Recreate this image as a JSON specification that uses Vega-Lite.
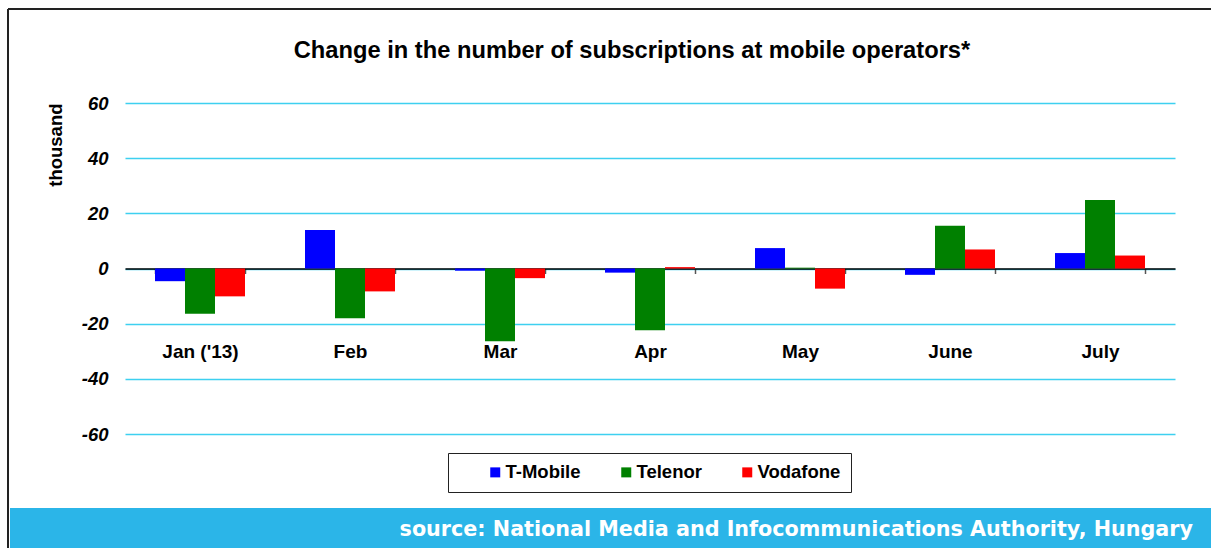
{
  "$schema": "https://vega.github.io/schema/vega-lite/v6.json",
  "width": 1050,
  "height": 331,
  "autosize": {"type": "none"},
  "padding": {"left": 125, "top": 103, "right": 36, "bottom": 114},
  "background": "white",
  "config": {"view": {"stroke": null}, "font": "Liberation Sans"},
  "title": {
    "text": "Change in the number of subscriptions at mobile operators*",
    "font": "Liberation Sans",
    "fontSize": 23.7,
    "fontWeight": "bold",
    "color": "black",
    "anchor": "middle",
    "frame": "group",
    "dx": -18,
    "offset": -55
  },
  "datasets": {
    "subs": [
      {"month": "Jan ('13)", "operator": "T-Mobile", "value": -4.6},
      {"month": "Jan ('13)", "operator": "Telenor", "value": -16.4},
      {"month": "Jan ('13)", "operator": "Vodafone", "value": -10.1},
      {"month": "Feb", "operator": "T-Mobile", "value": 14.0},
      {"month": "Feb", "operator": "Telenor", "value": -18.0},
      {"month": "Feb", "operator": "Vodafone", "value": -8.3},
      {"month": "Mar", "operator": "T-Mobile", "value": -0.8},
      {"month": "Mar", "operator": "Telenor", "value": -26.4},
      {"month": "Mar", "operator": "Vodafone", "value": -3.5},
      {"month": "Apr", "operator": "T-Mobile", "value": -1.5},
      {"month": "Apr", "operator": "Telenor", "value": -22.4},
      {"month": "Apr", "operator": "Vodafone", "value": 0.5},
      {"month": "May", "operator": "T-Mobile", "value": 7.4},
      {"month": "May", "operator": "Telenor", "value": 0.3},
      {"month": "May", "operator": "Vodafone", "value": -7.3},
      {"month": "June", "operator": "T-Mobile", "value": -2.3},
      {"month": "June", "operator": "Telenor", "value": 15.5},
      {"month": "June", "operator": "Vodafone", "value": 6.9},
      {"month": "July", "operator": "T-Mobile", "value": 5.6},
      {"month": "July", "operator": "Telenor", "value": 24.8},
      {"month": "July", "operator": "Vodafone", "value": 4.7}
    ],
    "source": [
      {"text": "source: National Media and Infocommunications Authority, Hungary"}
    ]
  },
  "layer": [
    {
      "data": {"name": "subs"},
      "mark": {"type": "bar"},
      "encoding": {
        "x": {
          "field": "month",
          "type": "nominal",
          "sort": ["Jan ('13)", "Feb", "Mar", "Apr", "May", "June", "July"],
          "scale": {"paddingInner": 0.4, "paddingOuter": 0.2},
          "axis": {
            "title": null,
            "orient": "bottom",
            "offset": -165.5,
            "domainColor": "black",
            "domainWidth": 1.5,
            "tickBand": "extent",
            "tickSize": 5,
            "tickColor": "#555555",
            "tickWidth": 1.5,
            "labelAngle": 0,
            "labelFont": "Liberation Sans",
            "labelFontSize": 19,
            "labelFontWeight": "bold",
            "labelColor": "black",
            "labelPadding": 69
          }
        },
        "xOffset": {
          "field": "operator",
          "type": "nominal",
          "sort": ["T-Mobile", "Telenor", "Vodafone"],
          "scale": {"paddingInner": 0, "paddingOuter": 0}
        },
        "y": {
          "field": "value",
          "type": "quantitative",
          "scale": {"domain": [-60, 60], "nice": false},
          "axis": {
            "title": "thousand",
            "values": [-60, -40, -20, 0, 20, 40, 60],
            "grid": true,
            "gridColor": "#3dd0f0",
            "gridWidth": 1.5,
            "domain": false,
            "ticks": false,
            "labelPadding": 17,
            "labelFont": "Liberation Sans",
            "labelFontSize": 18.5,
            "labelFontStyle": "italic",
            "labelFontWeight": "bold",
            "labelColor": "black",
            "labelExpr": "datum.value + ''",
            "titleFont": "Liberation Sans",
            "titleFontSize": 18.5,
            "titleFontWeight": "bold",
            "titleColor": "black",
            "titleAnchor": "end",
            "titlePadding": 16
          }
        },
        "color": {
          "field": "operator",
          "type": "nominal",
          "scale": {
            "domain": ["T-Mobile", "Telenor", "Vodafone"],
            "range": ["#0000ff", "#008000", "#ff0000"]
          },
          "legend": {
            "title": null,
            "orient": "none",
            "legendX": 323,
            "legendY": 350,
            "direction": "horizontal",
            "columns": 3,
            "columnPadding": 8,
            "symbolType": "square",
            "symbolSize": 100,
            "symbolStrokeWidth": 0,
            "symbolOffset": 28,
            "labelFont": "Liberation Sans",
            "labelFontSize": 18.5,
            "labelFontWeight": "bold",
            "labelColor": "black",
            "labelOffset": 1,
            "padding": 10,
            "fillColor": "white",
            "strokeColor": "#222222"
          }
        }
      }
    },
    {
      "data": {"name": "source"},
      "mark": {"type": "rect", "color": "#2bb5e8"},
      "encoding": {
        "x": {"value": -115},
        "x2": {"value": 1086},
        "y": {"value": 405},
        "y2": {"value": 445}
      }
    },
    {
      "data": {"name": "source"},
      "mark": {
        "type": "text",
        "align": "right",
        "baseline": "middle",
        "font": "DejaVu Sans",
        "fontSize": 20.7,
        "fontWeight": "bold",
        "color": "white"
      },
      "encoding": {
        "text": {"field": "text"},
        "x": {"value": 1068},
        "y": {"value": 427}
      }
    },
    {
      "data": {"name": "source"},
      "mark": {"type": "rule", "color": "#222222", "strokeWidth": 2},
      "encoding": {
        "x": {"value": -117},
        "x2": {"value": 1086},
        "y": {"value": -94}
      }
    },
    {
      "data": {"name": "source"},
      "mark": {"type": "rule", "color": "#222222", "strokeWidth": 2},
      "encoding": {
        "x": {"value": -117},
        "y": {"value": -94},
        "y2": {"value": 445}
      }
    }
  ]
}
